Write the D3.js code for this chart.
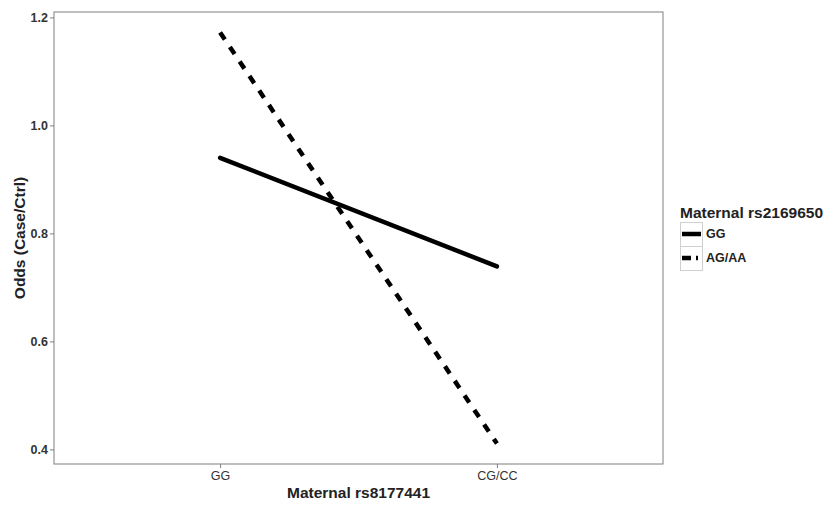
<!DOCTYPE html>
<html><head><meta charset="utf-8">
<script src="https://cdn.jsdelivr.net/npm/d3@7"></script>
<style>body{margin:0;background:#fff}text{font-family:"Liberation Sans",Arial,sans-serif}</style>
</head><body><svg id="c" width="825" height="506"></svg>
<script>
const categories = ["GG", "CG/CC"];
const seriesNames = ["GG", "AG/AA"];
const gg = [0.94, 0.739];
const agaa = [1.172, 0.411];
const yTicks = [0.4, 0.6, 0.8, 1.0, 1.2];
const series = [{name: seriesNames[0], values: gg, dash: null}, {name: seriesNames[1], values: agaa, dash: "8.5,9"}];

const svg = d3.select("#c");
const L = 54, R = 663, T = 12, B = 464;
const x = d3.scalePoint().domain(categories).range([L, R]).padding(0.6);
const all = gg.concat(agaa);
const lo = d3.min(all), hi = d3.max(all), ex = (hi - lo) * 0.05;
const y = d3.scaleLinear().domain([lo - ex, hi + ex]).range([B, T]);

svg.append("rect").attr("x", L).attr("y", T).attr("width", R - L).attr("height", B - T)
  .attr("fill", "#fff").attr("stroke", "#7f7f7f").attr("stroke-width", 1);

const line = d3.line().x((d, i) => x(categories[i])).y(d => y(d));
const g = svg.append("g");
series.forEach(s => {
  g.append("path").attr("d", line(s.values)).attr("fill", "none").attr("stroke", "#000")
    .attr("stroke-width", 4.5).attr("stroke-linecap", s.dash ? "butt" : "round")
    .attr("stroke-dasharray", s.dash);
});

const ya = svg.append("g").attr("transform", `translate(${L},0)`)
  .call(d3.axisLeft(y).tickValues(yTicks).tickFormat(d3.format(".1f")).tickSize(4).tickSizeOuter(0));
ya.select(".domain").remove();
ya.selectAll("line").attr("stroke", "#7f7f7f");
ya.selectAll("text").attr("fill", "#333").style("font-size", "12.5px").style("font-weight", "bold").attr("x", -6);

const xa = svg.append("g").attr("transform", `translate(0,${B})`)
  .call(d3.axisBottom(x).tickSize(4).tickSizeOuter(0));
xa.select(".domain").remove();
xa.selectAll("line").attr("stroke", "#7f7f7f");
xa.selectAll("text").attr("fill", "#333").style("font-size", "12.5px").attr("y", 7);

svg.append("text").attr("x", (L + R) / 2).attr("y", 498).attr("text-anchor", "middle")
  .style("font-size", "15.5px").style("font-weight", "bold").attr("fill", "#222").text("Maternal rs8177441");
svg.append("text").attr("transform", `translate(25,${(T + B) / 2}) rotate(-90)`).attr("text-anchor", "middle")
  .style("font-size", "15.5px").style("font-weight", "bold").attr("fill", "#222").text("Odds (Case/Ctrl)");

const lg = svg.append("g").attr("transform", "translate(680,0)");
lg.append("text").attr("x", 0).attr("y", 218).style("font-size", "15.5px").style("font-weight", "bold")
  .attr("fill", "#222").text("Maternal rs2169650");
series.forEach((s, i) => {
  const ky = 222 + i * 24;
  lg.append("rect").attr("x", 0.5).attr("y", ky + 0.5).attr("width", 22).attr("height", 24)
    .attr("fill", "#fff").attr("stroke", "#d0d0d0");
  lg.append("line").attr("x1", 2).attr("x2", 21).attr("y1", ky + 12).attr("y2", ky + 12)
    .attr("stroke", "#000").attr("stroke-width", 4.5).attr("stroke-dasharray", s.dash ? "9,5,2,10" : null);
  lg.append("text").attr("x", 26).attr("y", ky + 16).style("font-size", "12.5px").style("font-weight", "bold")
    .attr("fill", "#222").text(s.name);
});
</script></body></html>
